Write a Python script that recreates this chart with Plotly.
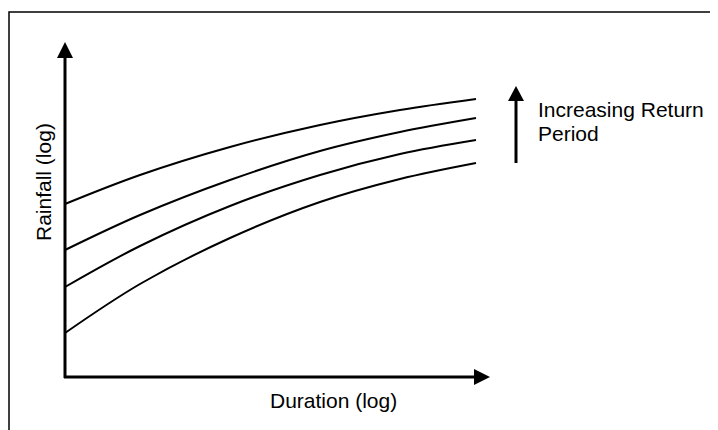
import plotly.graph_objects as go

# (pixel-space units: x to the right, y downward)
duration = [65, 140, 230, 320, 400, 476]
rainfall_1 = [204, 175, 147, 125, 110, 99]
rainfall_2 = [250, 215, 180, 151, 132, 118]
rainfall_3 = [287, 246, 206, 175, 154, 140]
rainfall_4 = [333, 284, 238, 202, 179, 163]
series = [rainfall_1, rainfall_2, rainfall_3, rainfall_4]

W, H = 718, 430
OFF = 8  # page body margin
FONT = "Liberation Sans, Arial, sans-serif"

fig = go.Figure()
for s in series:
    fig.add_trace(go.Scatter(x=duration, y=s, mode="lines",
                             line=dict(color="black", width=2, shape="spline", smoothing=1.0),
                             hoverinfo="skip", showlegend=False))

shapes = []
# outer border (only top and left visible)
shapes.append(dict(type="rect", x0=9, y0=12, x1=W + 40, y1=H + 40,
                   line=dict(color="black", width=1.5)))
# y axis line + arrowhead
shapes.append(dict(type="line", x0=65, y0=378, x1=65, y1=56,
                   line=dict(color="black", width=3)))
shapes.append(dict(type="path", path="M 57 58 L 73 58 L 65 42 Z",
                   fillcolor="black", line=dict(color="black", width=0)))
# x axis line + arrowhead
shapes.append(dict(type="line", x0=64, y0=377, x1=476, y1=377,
                   line=dict(color="black", width=3)))
shapes.append(dict(type="path", path="M 474 369 L 474 385 L 490 377 Z",
                   fillcolor="black", line=dict(color="black", width=0)))
# return period arrow
shapes.append(dict(type="line", x0=516, y0=163, x1=516, y1=99,
                   line=dict(color="black", width=3)))
shapes.append(dict(type="path", path="M 508 101 L 524 101 L 516 86 Z",
                   fillcolor="black", line=dict(color="black", width=0)))
for sh in shapes:
    sh.update(xref="x", yref="y", layer="above")

annotations = [
    dict(x=333, y=400, text="Duration (log)", showarrow=False,
         xanchor="center", yanchor="middle", font=dict(size=21, color="black", family=FONT)),
    dict(x=43, y=182, text="Rainfall (log)", showarrow=False, textangle=-90,
         xanchor="center", yanchor="middle", font=dict(size=21, color="black", family=FONT)),
    dict(x=536, y=109, text="Increasing Return", showarrow=False,
         xanchor="left", yanchor="middle", font=dict(size=21, color="black", family=FONT)),
    dict(x=536, y=133, text="Period", showarrow=False,
         xanchor="left", yanchor="middle", font=dict(size=21, color="black", family=FONT)),
]

fig.update_layout(
    width=W, height=H,
    margin=dict(l=0, r=0, t=0, b=0),
    paper_bgcolor="white", plot_bgcolor="white",
    xaxis=dict(range=[OFF, W + OFF], visible=False, fixedrange=True),
    yaxis=dict(range=[H + OFF, OFF], visible=False, fixedrange=True),
    shapes=shapes, annotations=annotations,
)

fig.write_html("out.html", config={"displayModeBar": False})
